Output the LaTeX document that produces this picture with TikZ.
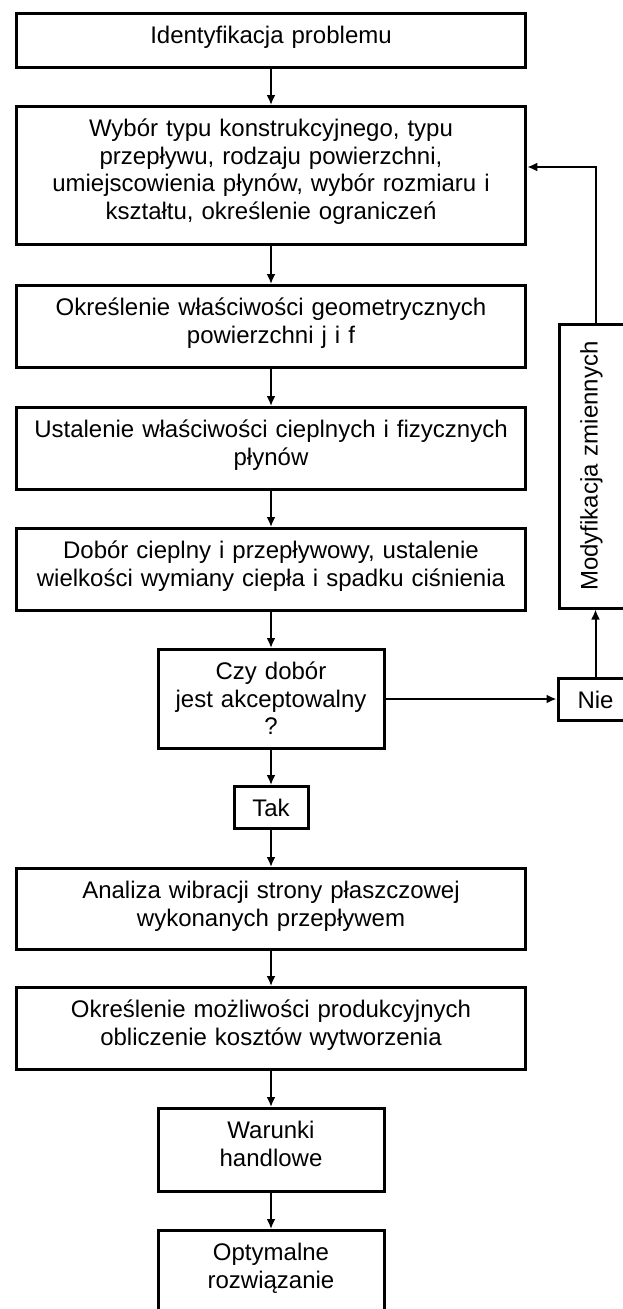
\documentclass[tikz,border=0pt]{standalone}
\usepackage{fontspec}
\setmainfont{Liberation Sans}
\usetikzlibrary{shapes,arrows.meta}
\usetikzlibrary{positioning}
\tikzstyle{block} = [rectangle, draw, line width=3pt, fill=white,
  text width=490pt, align=center, minimum width=509.5pt,
  inner xsep=6pt, inner ysep=10pt, text height=20pt,
  font=\fontsize{24pt}{27.6pt}\selectfont]
\tikzstyle{shortblock} = [block, text width=200pt, minimum width=226pt]
\tikzstyle{tag} = [block, text width=50pt, minimum width=74pt]
\tikzstyle{line} = [draw, line width=2pt, color=black,
  -{Latex[length=10pt,width=9pt]}]

\begin{document}
\begin{tikzpicture}

  \path[use as bounding box, fill=white] (0,0) rectangle (623pt,-1309pt);
  \clip (0,0) rectangle (623pt,-1309pt);

  %%%%%%%%%%%%%%%%%%%%%%%%%%%%%%%%%%%%%%%%%%%%%%%%%%%%%%%%%%%%%%
  %                    DESIGN STEPS                            %
  %%%%%%%%%%%%%%%%%%%%%%%%%%%%%%%%%%%%%%%%%%%%%%%%%%%%%%%%%%%%%%

  \node [block, text depth=14pt] (ident) at (271pt,-40.5pt) {
    Identyfikacja problemu
  };
  \node [block, text depth=98pt, below = 36pt of ident] (wybor) {
    Wybór typu konstrukcyjnego, typu\\
    przepływu, rodzaju powierzchni,\\
    umiejscowienia płynów, wybór rozmiaru i\\
    kształtu, określenie ograniczeń
  };
  \node [block, text depth=42pt, below = 38pt of wybor] (geom) {
    Określenie właściwości geometrycznych\\
    powierzchni j i f
  };
  \node [block, text depth=42pt, below = 37pt of geom] (ustal) {
    Ustalenie właściwości cieplnych i fizycznych\\
    płynów
  };
  \node [block, text depth=42pt, below = 36pt of ustal] (dobor) {
    Dobór cieplny i przepływowy, ustalenie\\
    wielkości wymiany ciepła i spadku ciśnienia
  };

  %%%%%%%%%%%%%%%%%%%%%%%%%%%%%%%%%%%%%%%%%%%%%%%%%%%%%%%%%%%%%%
  %                    DECISION                                %
  %%%%%%%%%%%%%%%%%%%%%%%%%%%%%%%%%%%%%%%%%%%%%%%%%%%%%%%%%%%%%%

  \node [shortblock, text depth=59pt, below = 36pt of dobor] (czy) {
    Czy dobór\\
    jest akceptowalny\\
    ?
  };
  \node [tag, text depth=2pt, below = 35pt of czy] (tak) {Tak};
  \node [tag, text depth=2pt, minimum width=75pt, right = 171pt of czy] (nie) {Nie};
  \node [block, rotate=90, text width=270pt, minimum width=284pt,
    inner ysep=18pt, text depth=16pt,
    above = 67pt of nie, anchor=west] (modyf) {
    Modyfikacja zmiennych
  };

  %%%%%%%%%%%%%%%%%%%%%%%%%%%%%%%%%%%%%%%%%%%%%%%%%%%%%%%%%%%%%%
  %                    FINAL STEPS                             %
  %%%%%%%%%%%%%%%%%%%%%%%%%%%%%%%%%%%%%%%%%%%%%%%%%%%%%%%%%%%%%%

  \node [block, text depth=41pt, below = 37pt of tak] (analiza) {
    Analiza wibracji strony płaszczowej\\
    wykonanych przepływem
  };
  \node [block, text depth=42pt, below = 35pt of analiza] (koszty) {
    Określenie możliwości produkcyjnych\\
    obliczenie kosztów wytworzenia
  };
  \node [shortblock, text depth=43pt, below = 36pt of koszty] (warunki) {
    Warunki\\
    handlowe
  };
  \node [shortblock, text depth=48pt, below = 36pt of warunki] (optym) {
    Optymalne\\
    rozwiązanie
  };

  \path [line] (ident) -- (wybor);
  \path [line] (wybor) -- (geom);
  \path [line] (geom) -- (ustal);
  \path [line] (ustal) -- (dobor);
  \path [line] (dobor) -- (czy);
  \path [line] (czy) -- (tak);
  \path [line] (tak) -- (analiza);
  \path [line] (analiza) -- (koszty);
  \path [line] (koszty) -- (warunki);
  \path [line] (warunki) -- (optym);
  \path [line] (czy) -- (nie);
  \path [line] (nie) -- (modyf);
  \path [line] (modyf) |- ([yshift=8.5pt]wybor.east);

\end{tikzpicture}
\end{document}
